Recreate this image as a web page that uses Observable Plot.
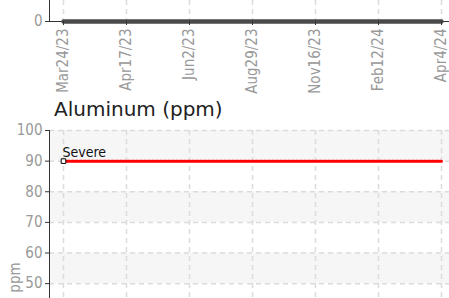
<!DOCTYPE html>
<html>
<head>
<meta charset="utf-8">
<script src="https://cdn.jsdelivr.net/npm/d3@7"></script>
<script src="https://cdn.jsdelivr.net/npm/@observablehq/plot@0.6"></script>
<style>
  html, body { margin: 0; padding: 0; background: #fff; overflow: hidden; }
  #wrap { position: relative; width: 449px; height: 298px; overflow: hidden; }
  #upper { position: absolute; left: 0; top: 0; }
  #title { position: absolute; left: 54px; top: 97px; font-family: "DejaVu Sans", sans-serif; font-size: 20px; line-height: 24px; color: #222; white-space: nowrap; }
  #lower { position: absolute; left: 0; top: 120px; }
  svg { display: block; }
</style>
</head>
<body>
<div id="wrap">
  <div id="upper"></div>
  <div id="title"></div>
  <div id="lower"></div>
</div>
<script>
// ---- data ----
const dates = ["Mar24/23", "Apr17/23", "Jun2/23", "Aug29/23", "Nov16/23", "Feb12/24", "Apr4/24"];
const topValues = [0, 0, 0, 0, 0, 0, 0];
const topTicks = [0];
const chartTitle = "Aluminum (ppm)";
const yLabel = "ppm";
const limitName = "Severe";
const severeValues = [90, 90, 90, 90, 90, 90, 90];
const yTicks = [50, 60, 70, 80, 90, 100];
const bandLow = [90, 70, 50, 30, 10];
const bandHigh = [100, 80, 60, 40, 20];

const tickFont = '"Liberation Sans Narrow", "DejaVu Sans Condensed", "Arial Narrow", sans-serif';
const grid = "#dcdcdc";
const dash = "5,4";

const topData = dates.map((d, i) => ({date: d, v: topValues[i]}));
const severeData = dates.map((d, i) => ({date: d, v: severeValues[i]}));
const bands = bandLow.map((lo, i) => ({lo, hi: bandHigh[i]}));

// ---- upper chart (bottom part of previous panel) ----
const upperChart = Plot.plot({
  width: 449,
  height: 95,
  marginTop: 0,
  marginLeft: 49,
  marginRight: 0,
  marginBottom: 74,
  style: {fontFamily: tickFont, fontSize: "15px", background: "transparent"},
  x: {type: "point", domain: dates, padding: 0, insetLeft: 12, insetRight: 6},
  y: {domain: [0, 1]},
  marks: [
    Plot.ruleX(dates, {stroke: grid, strokeWidth: 1.5, strokeDasharray: dash}),
    Plot.ruleY(topTicks, {stroke: "#333"}),
    Plot.frame({anchor: "left", stroke: "#333"}),
    Plot.line(topData, {x: "date", y: "v", stroke: "#4a4a4a", strokeWidth: 4.5}),
    Plot.axisX({tickRotate: -90, tickSize: 4, tickPadding: 3, stroke: "#333", fill: "#999", label: null, fontSize: 15}),
    Plot.axisY({ticks: topTicks, tickFormat: d => String(d), tickSize: 4, tickPadding: 3, stroke: "#333", fill: "#999", label: null, fontSize: 15})
  ]
});
document.getElementById("upper").appendChild(upperChart);

document.getElementById("title").textContent = chartTitle;

// ---- lower chart ----
const lowerChart = Plot.plot({
  width: 449,
  height: 378,
  marginTop: 10,
  marginLeft: 49,
  marginRight: 0,
  marginBottom: 74,
  style: {fontFamily: tickFont, fontSize: "15px", background: "transparent"},
  x: {type: "point", domain: dates, padding: 0, insetLeft: 12, insetRight: 6, axis: null},
  y: {domain: [4, 100]},
  marks: [
    Plot.rect(bands, {y1: "lo", y2: "hi", fill: "#f6f6f6"}),
    Plot.ruleY(yTicks, {stroke: grid, strokeWidth: 1.5, strokeDasharray: dash}),
    Plot.ruleX(dates, {stroke: grid, strokeWidth: 1.5, strokeDasharray: dash}),
    Plot.frame({anchor: "left", stroke: "#333"}),
    Plot.line(severeData, {x: "date", y: "v", stroke: "#ff0000", strokeWidth: 3, strokeDasharray: "2.7,1.3"}),
    Plot.dot(severeData.slice(0, 1), {x: "date", y: "v", symbol: "square", r: 2.6, stroke: "#000", fill: "#fff", strokeWidth: 1}),
    Plot.text(severeData.slice(0, 1), {x: "date", y: "v", text: () => limitName, textAnchor: "start", lineAnchor: "bottom", dx: -1, dy: -4, fill: "#111", fontSize: 14}),
    Plot.axisY({ticks: yTicks, tickSize: 4, tickPadding: 3, stroke: "#333", fill: "#999", fontSize: 15,
      label: yLabel, labelAnchor: "center", labelArrow: "none", labelOffset: 40})
  ]
});
document.getElementById("lower").appendChild(lowerChart);
</script>
</body>
</html>
